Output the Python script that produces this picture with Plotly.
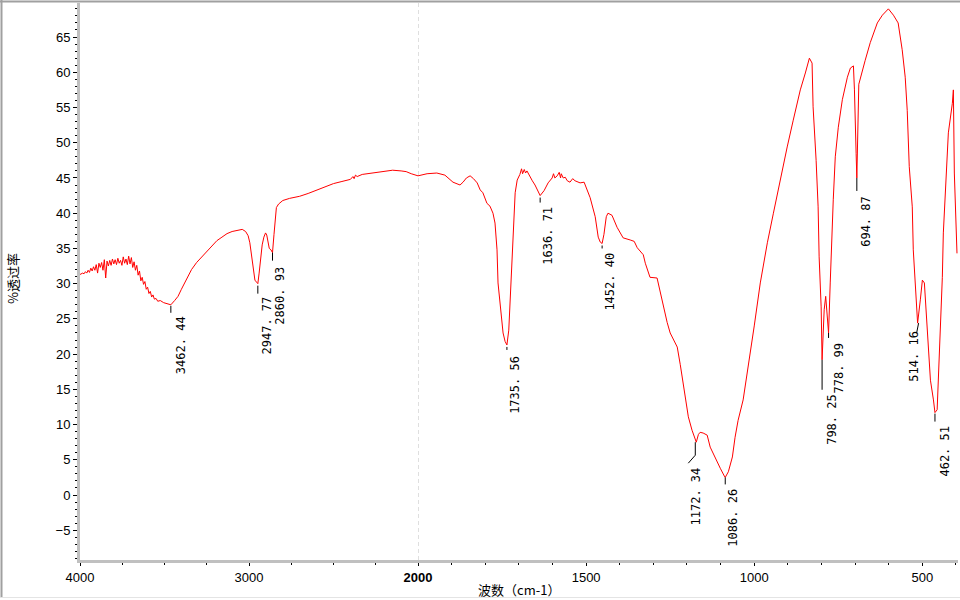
import plotly.graph_objects as go

# ---------------- data ----------------
wavenumber = [
    4000, 3992, 3984, 3976, 3968, 3960, 3952, 3944, 3936, 3928, 3920, 3912, 3904, 3896, 3888, 3880,
    3872, 3864, 3856, 3848, 3840, 3832, 3824, 3816, 3808, 3800, 3792, 3784, 3776, 3768, 3760, 3752,
    3744, 3736, 3728, 3720, 3712, 3704, 3696, 3688, 3680, 3672, 3664, 3656, 3648, 3640, 3632, 3624,
    3616, 3608, 3600, 3592, 3584, 3576, 3568, 3560, 3550, 3540, 3525, 3505, 3485, 3462.44, 3440, 3420,
    3400, 3380, 3360, 3340, 3310, 3280, 3250, 3220, 3190, 3160, 3130, 3100, 3070, 3040, 3020, 3005,
    2995, 2985, 2975, 2965, 2955, 2947.77, 2940, 2932, 2922, 2912, 2902, 2895, 2888, 2880, 2870, 2860.93,
    2852, 2845, 2838, 2825, 2800, 2760, 2700, 2650, 2600, 2550, 2500, 2450, 2400, 2385, 2378, 2370,
    2360, 2330, 2300, 2250, 2200, 2150, 2100, 2070, 2040, 2020, 2000,
    1973, 1944, 1920, 1896, 1875, 1866, 1856, 1845, 1835, 1824, 1815, 1807, 1795, 1786, 1777, 1771,
    1765, 1762, 1756, 1753, 1747, 1741, 1735.56, 1730, 1722, 1717, 1711, 1705, 1697, 1692, 1689, 1684,
    1680, 1676, 1667, 1660, 1652, 1643, 1636.71, 1625, 1613, 1601, 1597, 1593, 1586, 1580, 1576, 1574,
    1568, 1562, 1556, 1548, 1540, 1533, 1518, 1506, 1503, 1488, 1473, 1464, 1458, 1452.40, 1447, 1440,
    1435, 1423, 1408, 1390, 1369, 1357, 1348, 1330, 1324, 1310, 1289, 1274, 1259, 1250, 1229, 1220,
    1205, 1196, 1185, 1176, 1172.34, 1166, 1161, 1152, 1140, 1131, 1116, 1101, 1089, 1086.26, 1077, 1065,
    1057, 1048, 1033, 1018, 1000, 982, 961, 943, 923, 902, 884, 863, 848, 836, 828, 825,
    816, 810, 807, 801, 798.25, 796, 792, 787.5, 783, 778.99, 774, 771, 765, 759, 750, 738,
    723, 714, 705, 702, 700, 697, 694.87, 692, 689, 670, 655, 634, 619, 601, 586, 572,
    560, 551, 545, 539, 530, 527, 521, 517, 514.16, 506, 500, 494, 488, 482, 476, 467,
    462.51, 456, 452.5, 446.5, 440.6, 437.6, 431.6, 422.7, 410.8, 407.8, 404.9, 397,
]
transmittance = [
    31.3, 31.4, 31.5, 31.4, 31.7, 31.5, 31.9, 31.6, 32.2, 31.8, 32.4, 31.9, 32.7, 31.5, 32.9, 32.3,
    33.0, 31.9, 33.4, 30.8, 33.2, 32.5, 33.3, 32.6, 33.5, 32.8, 33.4, 32.7, 33.6, 32.9, 33.3, 32.6,
    33.8, 32.9, 33.5, 32.7, 33.9, 32.8, 33.7, 32.3, 33.1, 31.9, 32.6, 31.2, 31.8, 30.4, 30.9, 29.9,
    30.3, 29.2, 29.5, 28.6, 28.9, 28.1, 28.4, 27.8, 27.9, 27.5, 27.6, 27.3, 27.2, 27.0, 27.6, 28.2,
    29.2, 30.2, 31.2, 32.0, 33.0, 33.8, 34.6, 35.4, 36.1, 36.6, 37.1, 37.4, 37.6, 37.7, 37.4, 36.8,
    35.8, 34.0, 31.8, 30.5, 30.2, 30.0, 31.5, 33.5, 35.5, 36.6, 37.2, 36.9, 36.0, 35.0, 34.8, 34.4,
    37.0, 39.5, 40.8, 41.3, 41.8, 42.1, 42.4, 42.8, 43.3, 43.8, 44.2, 44.5, 44.8, 45.2, 44.9, 45.4,
    45.2, 45.5, 45.6, 45.8, 46.0, 46.1, 46.0, 45.9, 45.6, 45.4, 45.3,
    45.6, 45.7, 45.4, 44.4, 44.0, 44.4, 45.0, 45.3, 44.9, 44.3, 43.3, 42.9, 41.4, 41.0, 40.0, 38.6,
    34.8, 30.1, 27.5, 26.3, 23.0, 21.8, 21.3, 23.4, 32.4, 38.6, 42.9, 44.7, 45.5, 46.3, 45.6, 46.2,
    45.7, 46.0, 45.1, 44.6, 44.0, 43.0, 42.5, 43.2, 44.3, 45.0, 45.6, 45.0, 45.3, 45.8, 45.0, 45.6,
    45.0, 45.1, 44.6, 44.4, 44.9, 44.6, 44.3, 44.4, 44.0, 42.2, 39.5, 36.6, 35.9, 35.7, 37.0, 39.5,
    40.0, 39.7, 38.0, 36.5, 36.2, 36.0, 35.1, 34.1, 32.9, 30.9, 30.8, 27.5, 24.5, 23.0, 21.0, 18.5,
    13.5, 11.1, 9.2, 8.0, 7.5, 8.6, 8.9, 8.8, 8.5, 6.8, 5.2, 3.8, 2.7, 2.5, 3.3, 5.4,
    8.2, 10.6, 13.5, 18.0, 24.0, 30.1, 35.8, 40.0, 44.7, 49.4, 53.2, 57.5, 59.9, 62.0, 61.3, 55.1,
    47.5, 40.9, 33.8, 26.7, 19.2, 21.5, 26.3, 28.2, 25.5, 23.0, 30.1, 35.2, 41.9, 48.0, 52.2, 56.1,
    59.3, 60.6, 60.9, 57.5, 52.2, 48.5, 45.0, 54.0, 58.3, 61.7, 64.2, 67.0, 68.1, 69.0, 68.1, 67.0,
    63.2, 59.3, 54.6, 46.6, 40.9, 34.8, 29.1, 25.5, 24.4, 27.7, 30.5, 30.1, 25.3, 20.6, 16.3, 13.5,
    11.7, 12.1, 16.3, 23.0, 30.9, 37.2, 43.3, 51.4, 55.6, 57.5, 45.7, 34.3,
]

peak_wavenumber = [3462.44, 2947.77, 2860.93, 1735.56, 1636.71, 1452.40, 1172.34,
                   1086.26, 798.25, 778.99, 694.87, 514.16, 462.51]
peak_transmittance = [27.0, 30.0, 34.4, 21.3, 42.5, 35.7, 7.5,
                      2.5, 19.2, 23.0, 45.0, 24.4, 11.7]
peak_label = ["3462. 44", "2947. 77", "2860. 93", "1735. 56", "1636. 71", "1452. 40", "1172. 34",
              "1086. 26", "798. 25", "778. 99", "694. 87", "514. 16", "462. 51"]

x_tick_left = [4000, 3000]
x_tick_right = [2000, 1500, 1000, 500]
x_tick_right_text = ["<b>2000</b>", "1500", "1000", "500"]

x_title = "波数（cm-1）"
y_title = "%透过率"

BREAK = 2000  # scale change of the wavenumber axis

# ---------------- layout helpers (pixel offsets of peak labels) ----------------
label_dx = [9.5, 9, 7.5, 8, 7, 8, 0, 8, 10, 10, 9, -3, 10]
label_dy = [40, 42, 43, 40, 40, 38, 54, 40, 60, 35, 43, 33, 38]
label_lines = [
    [(0, 1, 0, 8)], [(0, 2, 0, 10)], [(0, 0, 0, 8)], [(0, 2, 0, 5)], [(0, 2, 0, 7)],
    [(0, 2, 0, 5)], [(-1, 0, -1, 13), (-1, 13, -8, 21)], [(0, 0, 0, 7)], [(0, 0, 0, 30)],
    [(0, 0, 0, 5)], [(0, 0, 0, 13)], [(1, 0, -1, 10)], [(0, 1, 0, 9)],
]

left_x = [w for w in wavenumber if w >= BREAK]
left_y = [t for w, t in zip(wavenumber, transmittance) if w >= BREAK]
right_x = [w for w in wavenumber if w <= BREAK]
right_y = [t for w, t in zip(wavenumber, transmittance) if w <= BREAK]

RED = "#ff0000"
fig = go.Figure()
fig.add_trace(go.Scatter(x=left_x, y=left_y, mode="lines", xaxis="x", yaxis="y",
                         line=dict(color=RED, width=1), hoverinfo="skip", showlegend=False))
fig.add_trace(go.Scatter(x=right_x, y=right_y, mode="lines", xaxis="x2", yaxis="y",
                         line=dict(color=RED, width=1), hoverinfo="skip", showlegend=False))

W, H = 960, 600
ML, MR, MT, MB = 80, 2, 3, 40
PW = W - ML - MR
PH = H - MT - MB
split = (418 - ML) / PW

tick_font = dict(family="Liberation Sans, Arial, sans-serif", size=13, color="black")
axis_common = dict(showline=True, linecolor="#c0c0c0", linewidth=3, ticks="outside",
                   ticklen=3, tickcolor="black", tickwidth=1, showgrid=False, zeroline=False,
                   tickfont=tick_font, anchor="y", fixedrange=True, automargin=False)

shapes = []
annotations = []
for wn, t, txt, dx, dy, segs in zip(peak_wavenumber, peak_transmittance, peak_label,
                                     label_dx, label_dy, label_lines):
    ax = "x" if wn > BREAK else "x2"
    for (x0, y0, x1, y1) in segs:
        shapes.append(dict(type="line", xref=ax, yref="y", xsizemode="pixel", ysizemode="pixel",
                           xanchor=wn, yanchor=t, x0=x0, x1=x1, y0=-y0, y1=-y1,
                           line=dict(color="black", width=1)))
    annotations.append(dict(x=wn, y=t, xref=ax, yref="y", text=txt, showarrow=False,
                            textangle=-90, xanchor="center", yanchor="middle",
                            xshift=dx, yshift=-dy,
                            font=dict(family="DejaVu Sans Mono, monospace", size=12, color="black")))

# dashed line at the scale break
shapes.append(dict(type="line", xref="x2", yref="paper", x0=BREAK, x1=BREAK, y0=0, y1=1,
                   line=dict(color="#c0c0c0", width=1, dash="4px,3px"), layer="below"))

# outer panel frame
def px_x(X):
    return (X - ML) / PW

def px_y(Y):
    return (H - MB - Y) / PH

shapes.append(dict(type="line", xref="paper", yref="paper", x0=px_x(1.5), x1=px_x(1.5),
                   y0=px_y(0), y1=px_y(597), line=dict(color="#a0a0a0", width=2)))
shapes.append(dict(type="line", xref="paper", yref="paper", x0=px_x(0), x1=px_x(960),
                   y0=px_y(1.5), y1=px_y(1.5), line=dict(color="#a0a0a0", width=2)))
shapes.append(dict(type="line", xref="paper", yref="paper", x0=px_x(0), x1=px_x(960),
                   y0=px_y(597.5), y1=px_y(597.5), line=dict(color="#e4e4e4", width=1)))

annotations.append(dict(text=x_title, xref="paper", yref="paper", x=0.5, y=px_y(589),
                        showarrow=False, xanchor="center", yanchor="middle",
                        font=dict(family="Noto Sans CJK SC", size=13, color="black")))
annotations.append(dict(text=y_title, xref="paper", yref="paper", x=px_x(12), y=px_y(279),
                        showarrow=False, xanchor="center", yanchor="middle", textangle=-90,
                        font=dict(family="Noto Sans CJK SC", size=13, color="black")))

fig.update_layout(
    width=W, height=H, margin=dict(l=ML, r=MR, t=MT, b=MB, autoexpand=False),
    paper_bgcolor="white", plot_bgcolor="white",
    xaxis=dict(domain=[0, split], range=[4000, BREAK], tickmode="array",
               tickvals=x_tick_left,
               minor=dict(tickmode="linear", tick0=4000, dtick=250, ticklen=2,
                          ticks="outside", tickcolor="black"),
               **axis_common),
    xaxis2=dict(domain=[split, 1], range=[BREAK, 394], tickmode="array",
                tickvals=x_tick_right, ticktext=x_tick_right_text,
                minor=dict(tickmode="linear", tick0=2000, dtick=100, ticklen=2,
                           ticks="outside", tickcolor="black"),
                **axis_common),
    yaxis=dict(range=[-9.22, 69.83], tickmode="linear", tick0=0, dtick=5,
               showline=True, linecolor="#c0c0c0", linewidth=3, ticks="outside",
               ticklen=4, tickcolor="black", tickwidth=1, showgrid=False, zeroline=False,
               tickfont=tick_font, fixedrange=True, automargin=False,
               minor=dict(tickmode="linear", tick0=0, dtick=1, ticklen=2,
                          ticks="outside", tickcolor="black")),
    shapes=shapes, annotations=annotations,
)

fig.write_html(
    "out.html",
    config={"displayModeBar": False},
    post_script="document.body.style.margin='0';document.documentElement.style.overflow='hidden';",
)
